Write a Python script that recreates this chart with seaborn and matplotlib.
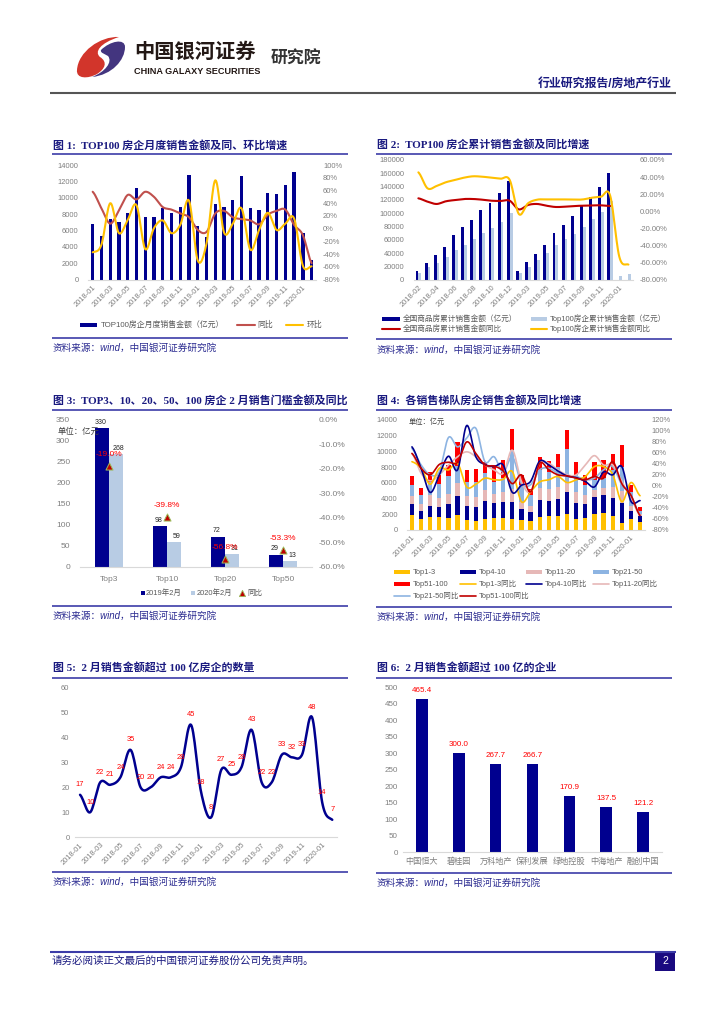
"""Research report page with six seaborn charts (TOP100 developers, Feb 2020)."""
from __future__ import annotations

import matplotlib

matplotlib.use("Agg")
import matplotlib.pyplot as plt
import numpy as np
import pandas as pd
import seaborn as sns
from matplotlib.patches import PathPatch, Rectangle
from matplotlib.path import Path

W, H = 724, 1024
NAVY = "#00008F"
LIGHT = "#B8CCE4"
YELLOW = "#FFC000"
BRICK = "#C0504D"
DARKRED = "#C00000"
PINK = "#E6B8B7"
SKY = "#8DB4E2"
RED = "#FF0000"
GREY = "#7F7F7F"
TITLE = "#1A1A80"
RULE = "#3C3CA8"

months_26 = [f"2018-{m:02d}" for m in range(1, 13)] + [f"2019-{m:02d}" for m in range(1, 13)] + ["2020-01", "2020-02"]
months_24 = [f"2018-{m:02d}" for m in range(2, 13)] + [f"2019-{m:02d}" for m in range(2, 13)] + ["2020-01", "2020-02"]

# chart 1
monthly_sales = [6800, 5300, 7400, 7000, 8200, 11200, 7600, 7700, 8700, 8200, 8900, 12800, 6600,
                 5200, 9300, 8900, 9700, 12700, 8700, 8500, 10600, 10500, 11600, 13200, 5700, 2400]
monthly_yoy = [58, 32, 8, 29, 53, 46, 58, 50, 34, 30, 24, 18, -2, -5, 24, 28, 18, 15, 13, 7, 22, 28, 30, 6, -10, -54]
monthly_mom = [-37, -25, 40, -7, 14, 37, -32, 1, 13, -7, 6, 44, -50, -23, 76, -6, 8, 32, -33, -2, 25, -2, 8, 16, -58, -59]

# chart 2
cum_national = [12900, 26000, 37000, 50000, 67000, 79000, 90000, 105000, 116000, 130000, 149000, 13000,
                27000, 39500, 52500, 71000, 83000, 96000, 112000, 124000, 139000, 160000, np.nan, np.nan]
cum_top100 = [10000, 19000, 26000, 35000, 45000, 53000, 62000, 70000, 78000, 87000, 100000, 10000,
              20000, 30000, 40000, 53000, 61000, 69000, 80000, 91000, 102000, 118000, 5500, 8500]
cum_national_yoy = [15.3, 11.4, 8.7, 11.8, 13.3, 14.5, 14.5, 13.7, 12.5, 12.2, 12.5, 2.4, 7.5, 8.7, 6.7, 5.2,
                    5.5, 6.3, 6.7, 7.1, 7.1, 6.3]
cum_top100_yoy = [45.6, 27, 29.7, 34, 36.7, 39.4, 41, 40.5, 39.4, 38.2, 36.7, -3, 9.4, 13.7, 14, 14, 14, 13.7,
                  14, 16, 17.2, 18.4, -52.8, -62]

# chart 3
tiers = ["Top3", "Top10", "Top20", "Top50"]
threshold_2019 = [330, 98, 72, 29]
threshold_2020 = [268, 59, 31, 13]
threshold_yoy = [-19.0, -39.8, -56.8, -53.3]

# chart 4
top1_3 = [1870, 1360, 1570, 1570, 1530, 1870, 1230, 1100, 1360, 1530, 1450, 1320, 1280,
          1150, 1660, 1740, 1740, 1960, 1400, 1450, 1960, 2170, 1740, 900, 1360, 940]
top4_10 = [1360, 1070, 1450, 1320, 1750, 2430, 1790, 1840, 2340, 1870, 2040, 2210, 1420,
           1150, 2130, 1880, 2220, 2810, 2000, 1830, 2250, 2260, 2350, 2550, 1070, 860]
top11_20 = [1070, 800, 1410, 1200, 1230, 1700, 1280, 1190, 1360, 1150, 1280, 1620, 790,
            720, 1570, 1530, 1440, 1330, 1450, 1150, 850, 850, 1310, 1550, 570, 200]
top21_50 = [1440, 1150, 1700, 1740, 2340, 2130, 1830, 2000, 2220, 1580, 1780, 5050, 2210,
            1380, 2240, 2250, 2640, 4200, 2150, 1270, 1280, 1270, 2200, 3040, 1850, 450]
top51_100 = [1060, 920, 1270, 1170, 1350, 3070, 1470, 1570, 1420, 2070, 2350, 2600, 1300,
             850, 1630, 1400, 1660, 2420, 1680, 1300, 2260, 2350, 2060, 2810, 850, 400]
yoy_top1_3 = [44, 32, 3, 32, 29, 41, -2, 3, 14, 11, 12, 26, -29, -11, 7, 11, 17, 6, 11, 17, 35, 35, 21, -29, 6, -18]
yoy_top4_10 = [71, 32, -12, 20, 54, 29, 110, 53, 39, 35, 38, -12, 1, 8, 45, 38, 27, 18, 15, 8, -2, 25, 20, 35, -28, -27]
yoy_top11_20 = [59, 23, 9, 20, 38, 53, 62, 53, 38, 29, 23, 65, 8, -11, 41, 41, 29, 20, 20, 38, 55, 38, 38, 8, -23, -53]
yoy_top21_50 = [68, 38, 20, 26, 88, 71, 87, 105, 44, 53, 25, 53, 4, 2, 29, 32, 23, 17, 17, 11, 14, 29, 35, 2, -17, -53]
yoy_top51_100 = [59, 32, 20, 39, 43, 43, 80, 59, 38, 36, 27, 4, 20, -11, 41, 29, 20, 18, 14, 11, 17, 14, 44, 4, -17, -54]

# chart 5
over_100_count = [17, 10, 22, 21, 24, 35, 20, 20, 24, 24, 28, 45, 18, 8, 27, 25, 28, 43, 22, 22, 33, 32, 33, 48, 14, 7]

# chart 6
firms = ["中国恒大", "碧桂园", "万科地产", "保利发展", "绿地控股", "中海地产", "融创中国"]
firm_sales = [465.4, 300.0, 267.7, 266.7, 170.9, 137.5, 121.2]


def smooth(values, x=None, per_seg=14):
    """Excel style smoothed line: Catmull-Rom bezier through the read values."""
    y = np.asarray(values, dtype=float)
    x = np.arange(len(y), dtype=float) if x is None else np.asarray(x, dtype=float)
    xs, ys = [], []
    for i in range(len(y) - 1):
        y0, y1, y2, y3 = y[max(i - 1, 0)], y[i], y[i + 1], y[min(i + 2, len(y) - 1)]
        t = np.linspace(0, 1, per_seg, endpoint=False)
        c1, c2 = y1 + (y2 - y0) / 6, y2 - (y3 - y1) / 6
        ys.append((1 - t) ** 3 * y1 + 3 * (1 - t) ** 2 * t * c1 + 3 * (1 - t) * t ** 2 * c2 + t ** 3 * y2)
        xs.append(x[i] + t * (x[i + 1] - x[i]))
    return np.append(np.concatenate(xs), x[-1]), np.append(np.concatenate(ys), y[-1])


def px_axes(fig, left, top, right, bottom):
    return fig.add_axes([left / W, 1 - bottom / H, (right - left) / W, (bottom - top) / H])


def style_axis(ax, n, labels=None, step=2, rotate=True, pad_left=7):
    ax.set_xlim(-0.5, n - 0.5)
    ax.set_xlabel("")
    ax.set_ylabel("")
    sns.despine(ax=ax, left=True, right=True, top=True)
    ax.spines["bottom"].set_color("#D9D9D9")
    ax.spines["bottom"].set_linewidth(0.8)
    ax.tick_params(axis="y", length=0, labelsize=5.4, labelcolor=GREY, pad=pad_left)
    ax.tick_params(axis="x", length=0, labelsize=5.4, labelcolor=GREY, pad=3)
    if labels is not None:
        ax.set_xticks(range(0, n, step))
        ax.set_xticklabels(labels[::step])
        if rotate:
            for t in ax.get_xticklabels():
                t.set_rotation(45)
                t.set_ha("right")
                t.set_rotation_mode("anchor")


def pct_axis(ax, low, high, step, fmt="{:.0f}%", pad=5):
    ax.set_ylim(low, high)
    ax.set_yticks(np.arange(low, high + step / 2, step))
    ax.set_yticklabels([fmt.format(v) for v in np.arange(low, high + step / 2, step)])
    ax.set_ylabel("")
    ax.set_xlabel("")
    sns.despine(ax=ax, left=True, right=True, top=True, bottom=True)
    ax.tick_params(axis="y", length=0, labelsize=5.4, labelcolor=GREY, pad=pad)


def draw_smooth(ax, values, color, lw=1.5, x=None):
    sx, sy = smooth(values, x)
    sns.lineplot(x=sx, y=sy, ax=ax, color=color, linewidth=lw, sort=False, errorbar=None, legend=False)


def bars(ax, cats, values, color, width):
    sns.barplot(x=cats, y=values, ax=ax, color=color, width=width, saturation=1, order=cats, legend=False,
                linewidth=0, edgecolor="none")


def chrome(ov, x0, x1, title, title_y, rule_y, rule2_y, source_y):
    ov.text(x0 + 1, title_y, title, fontsize=7.9, fontweight="bold", color=TITLE, va="center", ha="left",
            family=["Liberation Serif", "Noto Sans CJK SC"])
    ov.plot([x0, x1], [rule_y, rule_y], color=RULE, lw=1.2, solid_capstyle="butt")
    ov.plot([x0, x1], [rule2_y, rule2_y], color=RULE, lw=1.2, solid_capstyle="butt")
    ov.text(x0 + 1, source_y, "资料来源：wind，中国银河证券研究院", fontsize=6.9, color="#2A2A90", va="center", ha="left",
            style="italic")


def leg_text(ov, x, y, s, size=5.4):
    ov.text(x, y, s, fontsize=size, color="#595959", va="center", ha="left")


def leg_bar(ov, x0, x1, y, color, thick=3.2):
    ov.add_patch(Rectangle((x0, y - thick / 2), x1 - x0, thick, color=color, lw=0))


def leg_line(ov, x0, x1, y, color, lw=1.5):
    ov.plot([x0, x1], [y, y], color=color, lw=lw, solid_capstyle="round")


def draw_logo(ov):
    red = [(119, 37), (100, 36), (78, 52), (77, 70), (76, 79), (88, 79), (97, 74),
           (105, 69), (108, 62), (100, 57), (94, 52), (100, 43), (119, 37)]
    purple = [(101, 50), (110, 41), (125, 38), (125, 47), (125, 60), (112, 75), (92, 77),
              (105, 72), (113, 62), (108, 56), (105, 54), (100, 53), (101, 50)]
    for pts, col in ((red, "#D2352B"), (purple, "#43357F")):
        codes = [Path.MOVETO] + [Path.CURVE4] * (len(pts) - 1)
        ov.add_patch(PathPatch(Path(pts, codes), facecolor=col, edgecolor="none"))
    ov.text(134, 52.5, "中国银河证券", fontsize=14.6, fontweight="bold", color="#231815", va="center", ha="left")
    ov.text(271, 59, "研究院", fontsize=12.2, fontweight="bold", color="#333333", va="center", ha="left")
    ov.text(134.5, 71, "CHINA GALAXY SECURITIES", fontsize=6.6, fontweight="bold", color="#231815", va="center", ha="left")


def plot_chart1(fig):
    ax = px_axes(fig, 88.3, 165, 316, 279.7)
    bars(ax, months_26, monthly_sales, NAVY, 0.38)
    ax.set_ylim(0, 14000)
    ax.set_yticks(range(0, 14001, 2000))
    style_axis(ax, 26, months_26)
    ax2 = ax.twinx()
    draw_smooth(ax2, monthly_yoy, BRICK)
    draw_smooth(ax2, monthly_mom, YELLOW)
    pct_axis(ax2, -80, 100, 20)
    ax2.set_xlim(-0.5, 25.5)


def plot_chart2(fig):
    ax = px_axes(fig, 413.8, 160, 633, 280)
    frame = pd.DataFrame({
        "month": months_24 * 2,
        "value": cum_national + cum_top100,
        "series": ["national"] * 24 + ["top100"] * 24,
    })
    sns.barplot(data=frame, x="month", y="value", hue="series", ax=ax, width=0.62, saturation=1,
                palette=[NAVY, LIGHT], legend=False, linewidth=0, edgecolor="none")
    ax.set_ylim(0, 180000)
    ax.set_yticks(range(0, 180001, 20000))
    style_axis(ax, 24, months_24)
    ax2 = ax.twinx()
    draw_smooth(ax2, cum_national_yoy, DARKRED)
    draw_smooth(ax2, cum_top100_yoy, YELLOW)
    pct_axis(ax2, -80, 60, 20, "{:.2f}%")
    ax2.set_xlim(-0.5, 23.5)


def plot_chart3(fig):
    ax = px_axes(fig, 80, 420, 312, 566.7)
    frame = pd.DataFrame({
        "tier": tiers * 2,
        "value": threshold_2019 + threshold_2020,
        "year": ["2019"] * 4 + ["2020"] * 4,
    })
    sns.barplot(data=frame, x="tier", y="value", hue="year", ax=ax, width=0.49, saturation=1,
                palette=[NAVY, LIGHT], legend=False, linewidth=0, edgecolor="none")
    ax.set_ylim(0, 350)
    ax.set_yticks(range(0, 351, 50))
    style_axis(ax, 4)
    ax.set_xticks(range(4))
    ax.set_xticklabels(tiers)
    ax.tick_params(axis="x", pad=7, labelsize=6)
    ax.tick_params(axis="y", labelsize=6)
    for i in range(4):
        ax.annotate(str(threshold_2019[i]), (i - 0.1225, threshold_2019[i]), xytext=(-1, 1.5),
                    textcoords="offset points", ha="center", va="bottom", fontsize=5, color="#262626")
        ax.annotate(str(threshold_2020[i]), (i + 0.1225, threshold_2020[i]), xytext=(2, 1.5),
                    textcoords="offset points", ha="center", va="bottom", fontsize=5, color="#262626")
    ax2 = ax.twinx()
    sns.scatterplot(x=list(range(4)), y=threshold_yoy, ax=ax2, marker="^", s=26, color="#C00000",
                    edgecolor="#9BBB59", linewidth=0.7, legend=False, zorder=5)
    pct_axis(ax2, -60, 0, 10, "{:.1f}%")
    ax2.tick_params(axis="y", labelsize=6)
    ax2.set_xlim(-0.5, 3.5)
    for i, v in enumerate(threshold_yoy):
        ax2.annotate(f"{v:.1f}%", (i, v), xytext=(0, 8.5), textcoords="offset points", ha="center",
                     va="center", fontsize=6, color=RED)


def plot_chart4(fig):
    ax = px_axes(fig, 407.4, 420, 644.6, 529.7)
    segments = [(top1_3, YELLOW), (top4_10, NAVY), (top11_20, PINK), (top21_50, SKY), (top51_100, RED)]
    tops = np.cumsum([s for s, _ in segments], axis=0)
    # tallest first so every lower segment paints over it
    for top, (_, col) in reversed(list(zip(tops, segments))):
        bars(ax, months_26, top, col, 0.47)
    ax.set_ylim(0, 14000)
    ax.set_yticks(range(0, 14001, 2000))
    style_axis(ax, 26, months_26)
    ax2 = ax.twinx()
    for vals, col in ((yoy_top21_50, SKY), (yoy_top11_20, PINK), (yoy_top1_3, YELLOW),
                      (yoy_top4_10, NAVY), (yoy_top51_100, DARKRED)):
        draw_smooth(ax2, vals, col, lw=1.2)
    pct_axis(ax2, -80, 120, 20)
    ax2.set_xlim(-0.5, 25.5)


def plot_chart5(fig):
    ax = px_axes(fig, 75, 687.3, 337.3, 837.3)
    draw_smooth(ax, over_100_count, NAVY, lw=1.8)
    ax.set_ylim(0, 60)
    ax.set_yticks(range(0, 61, 10))
    style_axis(ax, 26, months_26, pad_left=4)
    for i, v in enumerate(over_100_count):
        ax.annotate(str(v), (i, v), xytext=(0, 7.4), textcoords="offset points", ha="center", va="center",
                    fontsize=5.4, color=RED)


def plot_chart6(fig):
    ax = px_axes(fig, 403.3, 687.3, 661.7, 852.3)
    bars(ax, firms, firm_sales, NAVY, 0.32)
    ax.set_ylim(0, 500)
    ax.set_yticks(range(0, 501, 50))
    style_axis(ax, 7, pad_left=4)
    ax.set_xticks(range(7))
    ax.set_xticklabels(firms)
    ax.tick_params(axis="x", pad=6.8, labelsize=5.9)
    ax.tick_params(axis="y", labelsize=5.8)
    # centred so the names without a tall glyph keep the same line
    for t in ax.get_xticklabels():
        t.set_va("center")
    for i, v in enumerate(firm_sales):
        ax.annotate(f"{v:.1f}", (i, v), xytext=(0, 6), textcoords="offset points", ha="center", va="center",
                    fontsize=5.8, color=RED)


def page_furniture(fig):
    ov = fig.add_axes([0, 0, 1, 1], zorder=10)
    ov.set_xlim(0, W)
    ov.set_ylim(H, 0)
    ov.axis("off")
    ov.patch.set_alpha(0)

    draw_logo(ov)
    ov.text(672, 84, "行业研究报告/房地产行业", fontsize=8.6, fontweight="bold", color=TITLE, ha="right", va="center")
    ov.plot([50, 676], [92.8, 92.8], color="#555555", lw=1.5, solid_capstyle="butt")
    ov.plot([50, 676], [951.5, 951.5], color=RULE, lw=1.5, solid_capstyle="butt")
    ov.text(52, 960.5, "请务必阅读正文最后的中国银河证券股份公司免责声明。", fontsize=7.6, color=TITLE, ha="left", va="center")
    ov.add_patch(Rectangle((655, 951), 20, 20, color="#1A0A80", lw=0))
    ov.text(665, 960.5, "2", fontsize=7.5, color="white", ha="center", va="center")

    chrome(ov, 52, 348, "图 1:  TOP100 房企月度销售金额及同、环比增速", 145, 154, 338, 348)
    chrome(ov, 376, 672, "图 2:  TOP100 房企累计销售金额及同比增速", 144.5, 154, 339, 350)
    chrome(ov, 52, 348, "图 3:  TOP3、10、20、50、100 房企 2 月销售门槛金额及同比", 400.5, 410, 605.7, 616)
    chrome(ov, 376, 672, "图 4:  各销售梯队房企销售金额及同比增速", 400.5, 410, 606.7, 617)
    chrome(ov, 52, 348, "图 5:  2 月销售金额超过 100 亿房企的数量", 667.7, 677.7, 871.7, 882)
    chrome(ov, 376, 672, "图 6:  2 月销售金额超过 100 亿的企业", 667.7, 677.7, 873, 883)

    # chart 1 legend
    leg_bar(ov, 80, 97, 325, NAVY)
    leg_text(ov, 100.5, 325, "TOP100房企月度销售金额（亿元）", 5.7)
    leg_line(ov, 237, 255, 325, BRICK)
    leg_text(ov, 257, 325, "同比", 5.7)
    leg_line(ov, 286, 303, 325, YELLOW)
    leg_text(ov, 307, 325, "环比", 5.7)

    # chart 2 legend
    leg_bar(ov, 382, 400, 319, NAVY)
    leg_text(ov, 403, 319, "全国商品房累计销售金额（亿元）", 5.5)
    leg_bar(ov, 531, 547, 319, LIGHT)
    leg_text(ov, 550, 319, "Top100房企累计销售金额（亿元）", 5.5)
    leg_line(ov, 382, 400, 329, DARKRED)
    leg_text(ov, 403, 329, "全国商品房累计销售金额同比", 5.5)
    leg_line(ov, 531, 547, 329, YELLOW)
    leg_text(ov, 550, 329, "Top100房企累计销售金额同比", 5.5)

    # chart 3 legend and unit
    ov.add_patch(Rectangle((140.7, 591), 4.3, 4.3, color=NAVY, lw=0))
    leg_text(ov, 146, 593, "2019年2月")
    ov.add_patch(Rectangle((190.7, 591), 4.3, 4.3, color=LIGHT, lw=0))
    leg_text(ov, 197, 593, "2020年2月")
    ov.scatter([242], [593], marker="^", s=20, color="#C00000", edgecolor="#9BBB59", linewidth=0.6)
    leg_text(ov, 247, 593, "同比")
    ov.text(58, 432, "单位：亿元", fontsize=6.0, color="#404040", ha="left", va="center")

    # chart 4 legend and unit
    ov.text(409, 422, "单位：亿元", fontsize=5.2, color="#404040", ha="left", va="center")
    rows = [
        (572, [("bar", YELLOW, "Top1-3"), ("bar", NAVY, "Top4-10"), ("bar", PINK, "Top11-20"), ("bar", SKY, "Top21-50")]),
        (584, [("bar", RED, "Top51-100"), ("line", YELLOW, "Top1-3同比"), ("line", NAVY, "Top4-10同比"), ("line", PINK, "Top11-20同比")]),
        (596, [("line", SKY, "Top21-50同比"), ("line", DARKRED, "Top51-100同比")]),
    ]
    for y, entries in rows:
        for x, (kind, col, label) in zip((394, 460, 526, 593), entries):
            if kind == "bar":
                leg_bar(ov, x, x + 16, y, col)
            else:
                leg_line(ov, x, x + 16, y, col, lw=1.2)
            leg_text(ov, x + 19, y, label)


def main() -> None:
    sns.set_theme(style="white")
    plt.rcParams["font.family"] = ["Liberation Sans", "Noto Sans CJK SC"]
    plt.rcParams["axes.unicode_minus"] = False

    fig = plt.figure(figsize=(W / 100, H / 100), dpi=100, facecolor="white")
    plot_chart1(fig)
    plot_chart2(fig)
    plot_chart3(fig)
    plot_chart4(fig)
    plot_chart5(fig)
    plot_chart6(fig)
    page_furniture(fig)
    fig.savefig("out.png", dpi=100)
    plt.close(fig)


if __name__ == "__main__":
    main()
